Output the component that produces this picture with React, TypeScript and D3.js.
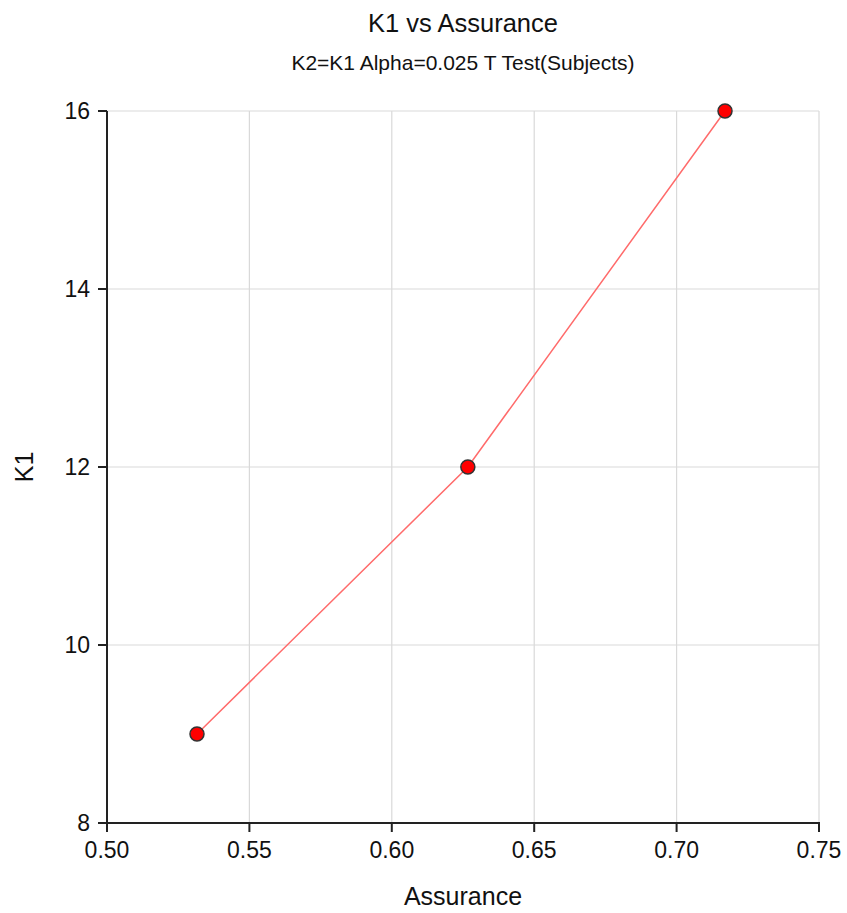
import React from "react";
import * as d3 from "d3";

const assurance = [0.5316, 0.6267, 0.717];
const k1 = [9, 12, 16];
const xTicks = [0.5, 0.55, 0.6, 0.65, 0.7, 0.75];
const yTicks = [8, 10, 12, 14, 16];
const title = "K1 vs Assurance";
const subtitle = "K2=K1 Alpha=0.025 T Test(Subjects)";
const xLabel = "Assurance";
const yLabel = "K1";

const W = 847;
const H = 913;
const M = { left: 107, right: 28, top: 111, bottom: 90 };
const FONT = "Arial, 'Liberation Sans', sans-serif";

export default function App() {
  const x = d3.scaleLinear().domain([0.5, 0.75]).range([M.left, W - M.right]);
  const y = d3.scaleLinear().domain([8, 16]).range([H - M.bottom, M.top]);
  const pts = assurance.map((a, i) => [a, k1[i]] as [number, number]);
  const line = d3
    .line<[number, number]>()
    .x((d) => x(d[0]))
    .y((d) => y(d[1]));
  const x0 = M.left;
  const x1 = W - M.right;
  const y0 = H - M.bottom;
  const y1 = M.top;
  const cx = (x0 + x1) / 2;
  const cy = (y0 + y1) / 2;
  return (
    <svg
      width={W}
      height={H}
      style={{ position: "absolute", left: 0, top: 0, background: "#fff" }}
      fontFamily={FONT}
    >
      <rect x={0} y={0} width={W} height={H} fill="#fff" />
      {/* grid */}
      {xTicks.map((t) => (
        <line key={"gx" + t} x1={x(t)} x2={x(t)} y1={y1} y2={y0} stroke="#d9d9d9" strokeWidth={1.2} />
      ))}
      {yTicks.map((t) => (
        <line key={"gy" + t} x1={x0} x2={x1} y1={y(t)} y2={y(t)} stroke="#d9d9d9" strokeWidth={1.2} />
      ))}
      {/* axes */}
      <line x1={x0} x2={x0} y1={y1} y2={y0 + 1} stroke="#222" strokeWidth={2} />
      <line x1={x0 - 1} x2={x1 + 1} y1={y0} y2={y0} stroke="#222" strokeWidth={2} />
      {xTicks.map((t) => (
        <g key={"tx" + t}>
          <line x1={x(t)} x2={x(t)} y1={y0} y2={y0 + 9} stroke="#222" strokeWidth={2} />
          <text x={x(t)} y={y0 + 35} textAnchor="middle" fontSize={23} fill="#111">
            {t.toFixed(2)}
          </text>
        </g>
      ))}
      {yTicks.map((t) => (
        <g key={"ty" + t}>
          <line x1={x0 - 9} x2={x0} y1={y(t)} y2={y(t)} stroke="#222" strokeWidth={2} />
          <text x={x0 - 17} y={y(t) + 8} textAnchor="end" fontSize={23} fill="#111">
            {t}
          </text>
        </g>
      ))}
      {/* data */}
      <path d={line(pts) || ""} fill="none" stroke="#ff6b6b" strokeWidth={1.5} />
      {pts.map((p, i) => (
        <circle key={i} cx={x(p[0])} cy={y(p[1])} r={7} fill="#ff0000" stroke="#333" strokeWidth={1.5} />
      ))}
      {/* titles */}
      <text x={cx} y={32} textAnchor="middle" fontSize={25.5} fill="#111">
        {title}
      </text>
      <text x={cx} y={70} textAnchor="middle" fontSize={21} fill="#111">
        {subtitle}
      </text>
      <text x={cx} y={905} textAnchor="middle" fontSize={25} fill="#111">
        {xLabel}
      </text>
      <text
        x={0}
        y={0}
        transform={`translate(33,${cy}) rotate(-90)`}
        textAnchor="middle"
        fontSize={25}
        fill="#111"
      >
        {yLabel}
      </text>
    </svg>
  );
}
